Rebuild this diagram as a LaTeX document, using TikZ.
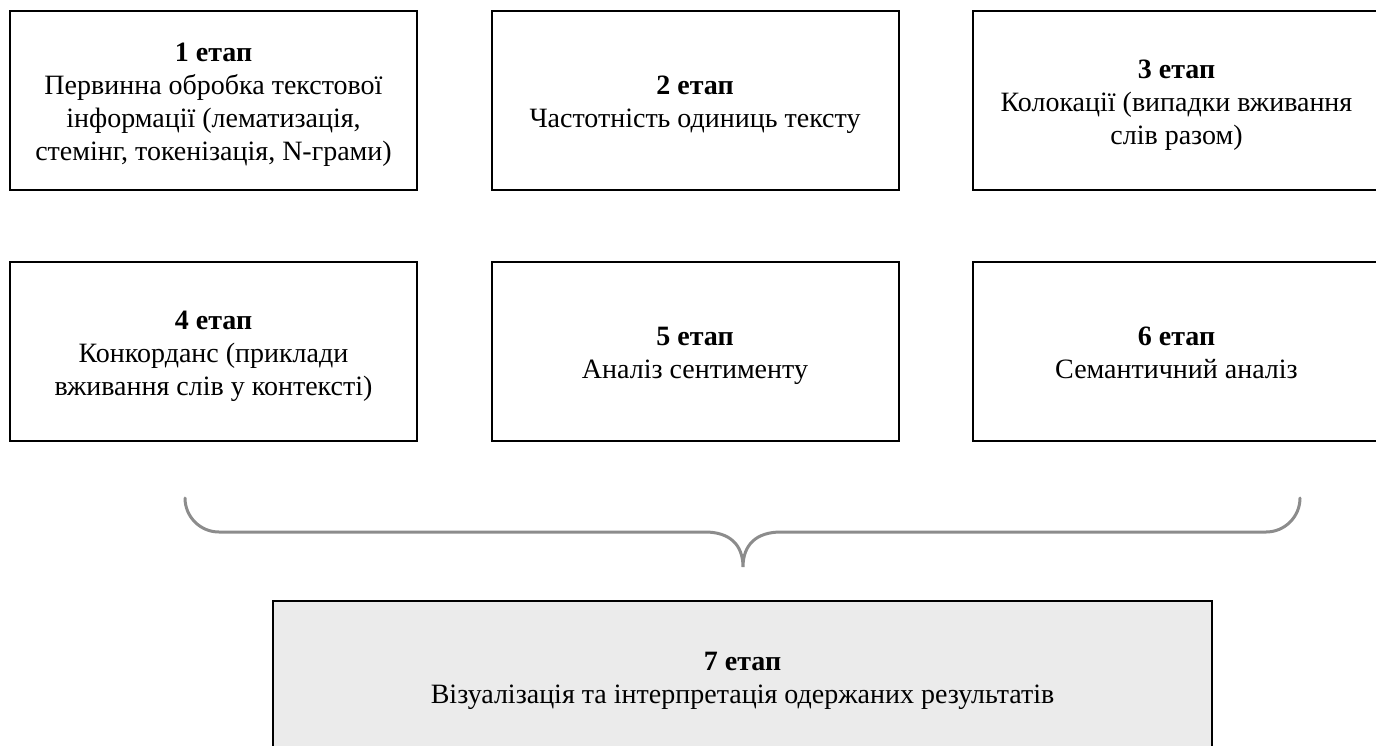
\documentclass[tikz,border=0pt]{standalone}
\usepackage{fontspec}
\setmainfont{Liberation Serif}
\newcommand\stagetxt[2]{\raisebox{-2pt}[\height][\depth]{\begin{tabular}{@{}c@{}}\textbf{#1}\\#2\end{tabular}}}
\begin{document}
\begin{tikzpicture}[x=0.5pt,y=-0.5pt,
  stagebox/.style={draw=black, line width=1pt, fill=white, minimum width=203.5pt, minimum height=89.5pt, font=\fontsize{14}{16.5}\selectfont, inner sep=0pt},
  finalbox/.style={stagebox, fill=boxgray, minimum width=469.5pt, minimum height=75pt},
  bracestyle/.style={draw=bracegray, line width=1.5pt, line cap=round}]
\definecolor{boxgray}{HTML}{EBEBEB}
\definecolor{bracegray}{HTML}{8C8C8C}
\useasboundingbox (0,0) rectangle (1376,745);
\node[stagebox] (s1) at (213.5,100.5) {\stagetxt{1 етап}{Первинна обробка текстової\\інформації (лематизація,\\стемінг, токенізація, N-грами)}};
\node[stagebox] (s2) at (695,100.5) {\stagetxt{2 етап}{Частотність одиниць тексту}};
\node[stagebox] (s3) at (1176.5,100.5) {\stagetxt{3 етап}{Колокації (випадки вживання\\слів разом)}};
\node[stagebox] (s4) at (213.5,351.5) {\stagetxt{4 етап}{Конкорданс (приклади\\вживання слів у контексті)}};
\node[stagebox] (s5) at (695,351.5) {\stagetxt{5 етап}{Аналіз сентименту}};
\node[stagebox] (s6) at (1176.5,351.5) {\stagetxt{6 етап}{Семантичний аналіз}};
\node[finalbox] (s7) at (742.5,676) {\stagetxt{7 етап}{Візуалізація та інтерпретація одержаних результатів}};
\coordinate (bl) at (185,498);
\coordinate (br) at (1300,498);
\coordinate (tip) at (743,567);
\draw[bracestyle] (bl) arc[start angle=180, end angle=270, x radius=34, y radius=-34]
  -- (705,532) .. controls (730,532) and (743,545) .. (tip)
  .. controls (743,545) and (756,532) .. (781,532) -- (1266,532)
  arc[start angle=270, end angle=360, x radius=34, y radius=-34];
\end{tikzpicture}
\end{document}
